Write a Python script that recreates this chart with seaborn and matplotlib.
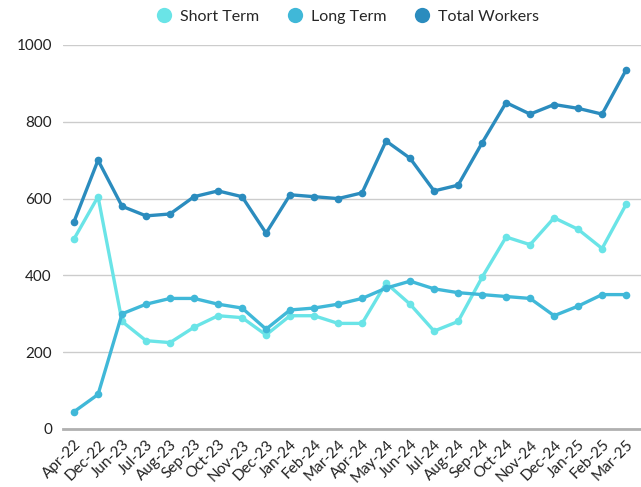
import matplotlib
matplotlib.use("Agg")
import matplotlib.pyplot as plt
import seaborn as sns
import pandas as pd
from matplotlib.lines import Line2D

months = ["Apr-22", "Dec-22", "Jun-23", "Jul-23", "Aug-23", "Sep-23", "Oct-23", "Nov-23",
          "Dec-23", "Jan-24", "Feb-24", "Mar-24", "Apr-24", "May-24", "Jun-24", "Jul-24",
          "Aug-24", "Sep-24", "Oct-24", "Nov-24", "Dec-24", "Jan-25", "Feb-25", "Mar-25"]
short_term = [495, 605, 280, 230, 225, 265, 295, 290, 245, 295, 295, 275,
              275, 380, 325, 255, 280, 395, 500, 480, 550, 520, 470, 585]
long_term = [45, 90, 300, 325, 340, 340, 325, 315, 260, 310, 315, 325,
             340, 367, 385, 365, 355, 350, 345, 340, 295, 320, 350, 350]
total_workers = [540, 700, 580, 555, 560, 605, 620, 605, 510, 610, 605, 600,
                 615, 750, 705, 620, 635, 745, 850, 820, 845, 835, 820, 935]
series_names = ["Short Term", "Long Term", "Total Workers"]
colors = ["#6ae4e7", "#40b8d8", "#2b8cbe"]

sns.set_style("white")
plt.rcParams["font.family"] = ["Lato", "DejaVu Sans"]

df = pd.DataFrame({
    "x": list(range(len(months))) * 3,
    "value": short_term + long_term + total_workers,
    "series": [series_names[0]] * len(months) + [series_names[1]] * len(months)
              + [series_names[2]] * len(months),
})

fig = plt.figure(figsize=(6.41, 4.87), dpi=100)
ax = fig.add_axes([63 / 641, 58 / 487, 1 - 63 / 641, (429 - 45) / 487])

sns.lineplot(data=df, x="x", y="value", hue="series", palette=colors,
             hue_order=series_names, marker="o", markersize=5.5, markeredgewidth=0,
             linewidth=2.4, legend=False, ax=ax)

ax.set_xlim(-0.46, 23.62)
ax.set_ylim(0, 1000)
ax.set_yticks([0, 200, 400, 600, 800, 1000])
ax.set_xticks(range(len(months)))
ax.set_xticklabels(months, rotation=45, ha="right", va="top", rotation_mode="anchor")
ax.tick_params(axis="x", labelsize=11, length=0, pad=6, colors="#222222")
ax.tick_params(axis="y", labelsize=11, length=0, pad=8, colors="#222222")
ax.set_xlabel("")
ax.set_ylabel("")
ax.grid(axis="y", color="#cccccc", linewidth=1)
ax.grid(axis="x", visible=False)
for s in ["top", "right", "left"]:
    ax.spines[s].set_visible(False)
ax.spines["bottom"].set_color("#b0b0b0")
ax.spines["bottom"].set_linewidth(2)
ax.set_axisbelow(True)
for ln in ax.lines:
    ln.set_clip_on(False)

handles = [Line2D([], [], marker="o", linestyle="", markersize=11, markeredgewidth=0,
                  color=c) for c in colors]
fig.legend(handles, series_names, loc="center", bbox_to_anchor=(0.542, 1 - 16.5 / 487),
           ncol=3, frameon=False, fontsize=11.5, handletextpad=0.5, columnspacing=1.75,
           handlelength=1.0)

fig.savefig("out.png", dpi=100)
